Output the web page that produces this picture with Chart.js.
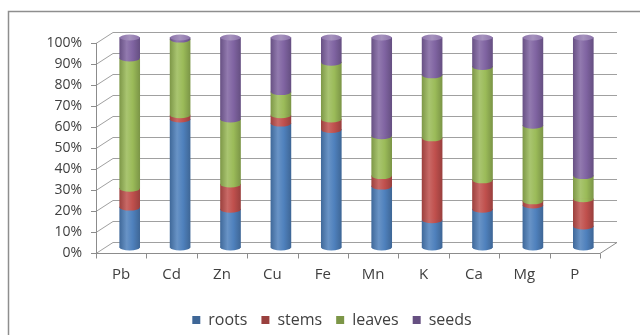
<!DOCTYPE html>
<html>
<head>
<meta charset="utf-8">
<script src="https://cdn.jsdelivr.net/npm/chart.js@4/dist/chart.umd.min.js"></script>
<style>
  html, body { margin: 0; padding: 0; background: #fff; }
  #wrap { width: 640px; height: 335px; }
</style>
</head>
<body>
<div id="wrap"><canvas id="c" width="640" height="335"></canvas></div>
<script>
// Share of each element held in each plant part (%)
const elements = ['Pb', 'Cd', 'Zn', 'Cu', 'Fe', 'Mn', 'K', 'Ca', 'Mg', 'P'];
const roots  = [19, 61, 18, 59, 56, 29, 13, 18, 20, 10];
const stems  = [ 9,  2, 12,  4,  5,  5, 39, 14,  2, 13];
const leaves = [62, 36, 31, 11, 27, 19, 30, 54, 36, 11];
const seeds  = [10,  1, 39, 26, 12, 47, 18, 14, 42, 66];
const percentTicks = [0, 10, 20, 30, 40, 50, 60, 70, 80, 90, 100];

const partNames  = ['roots', 'stems', 'leaves', 'seeds'];
const partColors = ['#4F81BD', '#C0504D', '#9BBB59', '#8064A2'];

// 3D look: back wall is shifted by (DX, DY); cylinders sit halfway back
const DX = 17, DY = -11;
const BAR_W = 20, CAP_RY = 3;
const GRID_COLOR = '#a0a0a0';
const AXIS_COLOR = '#8c8c8c';
const TICK_FONT = { family: "'Open Sans', sans-serif", size: 14 };
const CAT_FONT = { family: "'Open Sans', sans-serif", size: 15 };
const LEGEND_FONT = { family: "'Open Sans', sans-serif", size: 16 };
const TEXT_COLOR = '#404040';
const LEGEND_SHIFT = 40;

function mix(hex, target, t) {
  const n = parseInt(hex.slice(1), 16);
  const r = (n >> 16) & 255, g = (n >> 8) & 255, b = n & 255;
  const m = c => Math.round(c + (target - c) * t);
  return `rgb(${m(r)},${m(g)},${m(b)})`;
}

function cylinderGradient(ctx, cx, w, base) {
  if (!isFinite(cx) || !isFinite(w)) return base;
  const g = ctx.createLinearGradient(cx - w / 2, 0, cx + w / 2, 0);
  g.addColorStop(0, mix(base, 0, 0.18));
  g.addColorStop(0.35, mix(base, 255, 0.14));
  g.addColorStop(0.65, base);
  g.addColorStop(1, mix(base, 0, 0.2));
  return g;
}

function cylinderFill(base) {
  return c => {
    if (c.type !== 'data') return base;
    const xs = c.chart.scales.x;
    if (!xs) return base;
    return cylinderGradient(c.chart.ctx, xs.getPixelForValue(c.dataIndex), BAR_W, base);
  };
}

const depthPlugin = {
  id: 'depth',
  afterLayout(chart) {
    // legend sits a little right of the canvas centre
    if (chart.legend) chart.legend.left += LEGEND_SHIFT;
  },
  beforeDraw(chart) {
    const ctx = chart.ctx;
    ctx.save();
    ctx.fillStyle = '#fff';
    ctx.fillRect(0, 0, chart.width, chart.height);
    ctx.strokeStyle = '#8e8e8e';
    ctx.lineWidth = 1.5;
    ctx.strokeRect(8.5, 11.5, chart.width + 20, chart.height + 20);
    ctx.restore();
  },
  beforeDatasetsDraw(chart) {
    const { ctx, chartArea: { left, right, top, bottom }, scales: { x, y } } = chart;
    ctx.save();
    ctx.lineWidth = 1;
    // side wall and back wall gridlines, with small ticks on the front axis
    percentTicks.forEach(v => {
      const py = Math.round(y.getPixelForValue(v)) + 0.5;
      ctx.strokeStyle = GRID_COLOR;
      ctx.beginPath();
      ctx.moveTo(left, py);
      ctx.lineTo(left + DX, py + DY);
      ctx.lineTo(right + DX, py + DY);
      ctx.stroke();
      ctx.strokeStyle = AXIS_COLOR;
      ctx.beginPath();
      ctx.moveTo(left - 5, py);
      ctx.lineTo(left, py);
      ctx.stroke();
    });
    ctx.strokeStyle = AXIS_COLOR;
    // front vertical axis
    ctx.beginPath();
    ctx.moveTo(left + 0.5, top);
    ctx.lineTo(left + 0.5, bottom + 0.5);
    ctx.stroke();
    // floor: front edge and right edge
    const fb = Math.round(bottom) + 0.5;
    ctx.beginPath();
    ctx.moveTo(left, fb);
    ctx.lineTo(right, fb);
    ctx.lineTo(right + DX, fb + DY);
    ctx.stroke();
    // category ticks below the floor
    const step = x.getPixelForValue(1) - x.getPixelForValue(0);
    for (let i = 0; i <= elements.length; i++) {
      const px = Math.round(x.getPixelForValue(i) - step / 2) + 0.5;
      ctx.beginPath();
      ctx.moveTo(px, fb);
      ctx.lineTo(px, fb + 5);
      ctx.stroke();
    }
    ctx.restore();
    // cylinders are drawn halfway into the depth
    ctx.save();
    ctx.translate(DX / 2, DY / 2);
  },
  afterDatasetsDraw(chart) {
    const ctx = chart.ctx;
    const metas = chart.data.datasets.map((d, i) => chart.getDatasetMeta(i));
    elements.forEach((_, i) => {
      metas.forEach((meta, k) => {
        const el = meta.data[i];
        const { x, y, base, width } = el.getProps(['x', 'y', 'base', 'width'], true);
        const col = partColors[k];
        // rounded lower edge of each segment (covers the seam with the one below)
        ctx.fillStyle = cylinderGradient(ctx, x, width, col);
        ctx.beginPath();
        ctx.rect(x - width / 2, Math.min(base - 1, Math.max(y, base - 1)), width, 1);
        ctx.ellipse(x, base, width / 2, CAP_RY, 0, 0, Math.PI);
        ctx.fill();
        // top cap of the cylinder
        if (k === metas.length - 1) {
          const g = ctx.createLinearGradient(x - width / 2, 0, x + width / 2, 0);
          g.addColorStop(0, mix(col, 255, 0.1));
          g.addColorStop(0.5, mix(col, 255, 0.3));
          g.addColorStop(1, mix(col, 255, 0.1));
          ctx.fillStyle = g;
          ctx.beginPath();
          ctx.ellipse(x, y, width / 2, CAP_RY, 0, 0, Math.PI * 2);
          ctx.fill();
        }
      });
    });
    ctx.restore();
  }
};

const seriesValues = [roots, stems, leaves, seeds];

new Chart(document.getElementById('c'), {
  type: 'bar',
  data: {
    labels: elements,
    datasets: seriesValues.map((vals, k) => ({
      label: partNames[k],
      data: vals,
      backgroundColor: cylinderFill(partColors[k]),
      borderWidth: 0,
      barThickness: BAR_W,
      clip: false
    }))
  },
  options: {
    responsive: false,
    animation: false,
    layout: { padding: { left: 24, right: 40, top: 43, bottom: -3 } },
    scales: {
      x: {
        stacked: true,
        grid: { display: false, drawTicks: false },
        border: { display: false },
        ticks: { font: CAT_FONT, color: TEXT_COLOR, padding: 13, maxRotation: 0 },
        afterFit: s => { s.height = 45; }
      },
      y: {
        stacked: true,
        min: 0,
        max: 100,
        grid: { display: false, drawTicks: false },
        border: { display: false },
        afterBuildTicks: s => { s.ticks = percentTicks.map(v => ({ value: v })); },
        ticks: { font: TICK_FONT, color: TEXT_COLOR, padding: 14, callback: v => v + '%' },
        afterFit: s => { s.width = 72; }
      }
    },
    plugins: {
      legend: {
        position: 'bottom',
        labels: { font: LEGEND_FONT, color: TEXT_COLOR, boxWidth: 8, boxHeight: 8, padding: 14 }
      },
      tooltip: { enabled: false }
    }
  },
  plugins: [depthPlugin]
});
</script>
</body>
</html>
